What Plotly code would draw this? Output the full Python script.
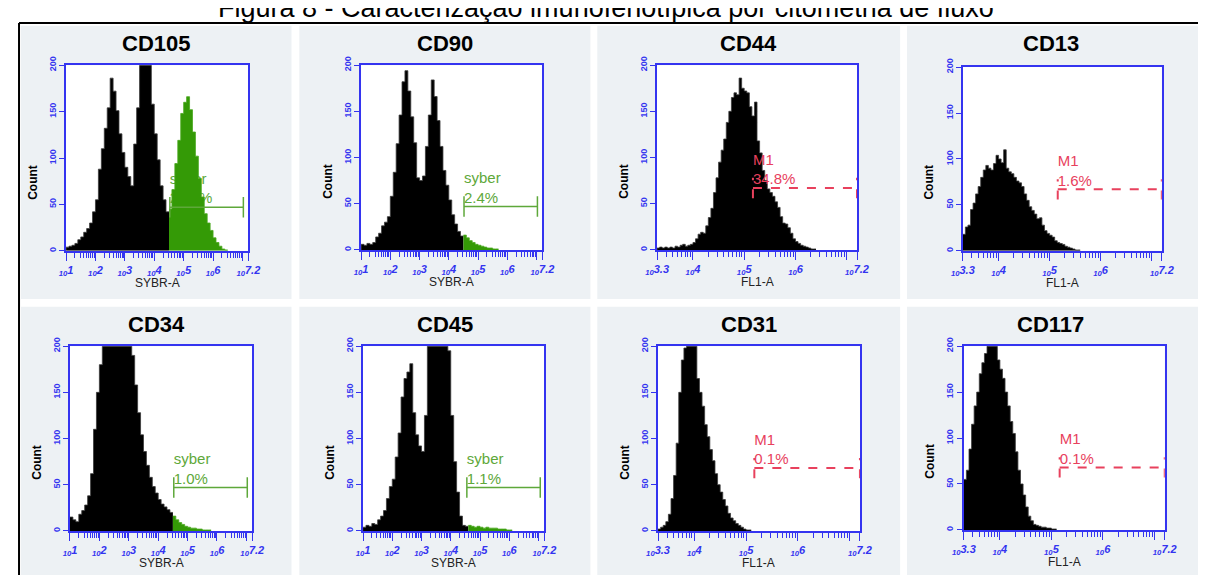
import plotly.graph_objects as go
import math

# ---------------- data ----------------
panel_titles = ["CD105", "CD90", "CD44", "CD13", "CD34", "CD45", "CD31", "CD117"]
channel_names = ["SYBR-A", "SYBR-A", "FL1-A", "FL1-A", "SYBR-A", "SYBR-A", "FL1-A", "FL1-A"]
decade_min = [1.0, 1.0, 3.3, 3.3, 1.0, 1.0, 3.3, 3.3]
decade_max = 7.2
bin_width = [0.1, 0.1, 0.05, 0.05, 0.1, 0.1, 0.05, 0.05]

# histogram counts per bin (bins start at decade_min, width bin_width, in log10 units)
counts_cd105 = [4, 5, 6, 8, 12, 15, 20, 24, 30, 42,
                55, 88, 110, 132, 154, 186, 172, 151, 126, 106,
                90, 80, 70, 115, 154, 212, 262, 252, 218, 158,
                126, 98, 70, 55, 42,
                45, 66, 94, 119, 148, 160, 166, 152, 128, 102,
                78, 58, 40, 30, 22, 14, 9, 5, 2, 1]
counts_cd90 = [6, 5, 7, 6, 8, 14, 18, 26, 30, 36,
               58, 84, 115, 146, 182, 194, 172, 144, 116, 78,
               75, 80, 112, 146, 184, 166, 140, 112, 86, 70,
               54, 38, 28, 20, 15,
               16, 13, 10, 8, 6, 5, 4, 3, 2, 2, 1, 1]
counts_cd34 = [15, 12, 10, 18, 22, 28, 38, 62, 110, 150,
               180, 215, 250, 280, 300, 310, 300, 285, 260, 235,
               215, 190, 158, 128, 104, 86, 71, 58, 48, 41,
               34, 29, 26, 23, 20,
               16, 12, 9, 7, 5, 4, 3, 3, 2, 2, 1, 1, 1]
counts_cd45 = [4, 6, 5, 8, 7, 12, 16, 22, 35, 48,
               56, 80, 106, 145, 165, 172, 181, 128, 104, 92,
               86, 125, 205, 245, 280, 300, 310, 290, 250, 195,
               125, 75, 42, 16, 6,
               5, 6, 5, 4, 5, 4, 3, 4, 3, 3, 3, 2, 2, 2, 1, 1]
counts_cd44 = [2, 3, 2, 3, 2, 3, 2, 4, 3, 5,
               6, 4, 5, 6, 8, 12, 17, 19, 18, 26,
               35, 45, 62, 78, 95, 108, 120, 138, 150, 165,
               170, 168, 186, 175, 172, 170, 155, 145, 160, 118,
               105, 86, 75, 66, 62, 58, 52, 46, 36, 29,
               28, 24, 18, 12, 9, 7, 5, 4, 3, 2, 1, 1]
counts_cd13 = [18, 26, 28, 45, 52, 62, 70, 80, 88, 93,
               90, 88, 95, 104, 100, 96, 110, 90, 86, 84,
               80, 76, 74, 70, 62, 55, 48, 44, 40, 35,
               36, 28, 22, 19, 17, 15, 11, 9, 8, 7,
               5, 4, 3, 2, 1, 1]
counts_cd31 = [2, 4, 6, 10, 18, 35, 60, 95, 150, 185,
               198, 220, 235, 225, 210, 165, 150, 135, 115, 102,
               88, 76, 62, 50, 42, 34, 27, 19, 14, 11,
               8, 6, 4, 2, 1, 1]
counts_cd117 = [55, 65, 88, 115, 135, 150, 170, 182, 192, 210,
                225, 230, 215, 185, 175, 165, 150, 135, 118, 105,
                85, 65, 50, 38, 25, 15, 10, 6, 5, 4,
                3, 3, 2, 2, 1, 1]
all_counts = [counts_cd105, counts_cd90, counts_cd44, counts_cd13,
              counts_cd34, counts_cd45, counts_cd31, counts_cd117]

gate_names = ["syber", "syber", "M1", "M1", "syber", "syber", "M1", "M1"]
gate_pct_labels = [None, "2.4%", "34.8%", "1.6%", "1.0%", "1.1%", "0.1%", "0.1%"]
gate_start = [4.53, 4.52, 5.17, 5.16, 4.53, 4.55, 5.16, 5.16]
gate_end = [7.03, 7.03, 7.2, 7.2, 7.03, 7.06, 7.2, 7.2]
gate_level = [47, 47, 67, 67, 47, 47, 68, 68]

y_tick_values = [0, 50, 100, 150, 200]
y_max = 200

figure_title = "Figura 8 - Caracterização imunofenotípica por citometria de fluxo"

# ---------------- layout geometry (pixels in the final picture) ----------------
W, H = 1206, 575
OFF = 8  # page body margin of the browser
plot_px = [(55, 241, 57, 246), (356, 541, 57, 245), (658, 862, 57, 245), (970, 1173, 59, 246),
           (59, 245, 343, 531), (358, 543, 343, 531), (659, 865, 343, 531), (971, 1176, 343, 530)]
panel_px = [(9, 285, 17, 295), (293, 590, 17, 295), (597, 906, 17, 295), (913, 1214, 17, 295),
            (9, 285, 303, 583), (293, 590, 303, 583), (597, 906, 303, 583), (913, 1214, 303, 583)]

BLUE = "#3434F0"
BG = "#EDF1F4"
GREEN_BAR = "#349A06"
GREEN_TXT = "#5EA83A"
RED = "#E8415D"
FONT = "Liberation Sans, Arial, sans-serif"


def fx(px):
    return (px - OFF) / W


def fy(py):
    return 1 - (py - OFF) / H


def step_xy(edges_left, vals, w):
    xs = list(edges_left) + [edges_left[-1] + w]
    ys = list(vals) + [vals[-1]]
    return xs, ys


fig = go.Figure()
shapes = []
annotations = []

for i in range(8):
    n = i + 1
    xa = "x" if n == 1 else f"x{n}"
    ya = "y" if n == 1 else f"y{n}"
    counts = all_counts[i]
    w = bin_width[i]
    lo = decade_min[i]
    lefts = [lo + k * w for k in range(len(counts))]
    sybr = gate_names[i] == "syber"
    bx, by, gx, gy = [], [], [], []
    for e, v in zip(lefts, counts):
        if sybr and e + w / 2 > gate_start[i]:
            gx.append(e); gy.append(v)
        else:
            bx.append(e); by.append(v)

    gcol = GREEN_TXT if sybr else RED
    pct = gate_pct_labels[i]
    if pct is None:
        pct = f"{100 * sum(gy) / sum(counts):.1f}%"
    label = dict(x=[gate_start[i]], y=[gate_level[i]], mode="text",
                 text=[f"{gate_names[i]}<br>{pct}"], textposition="top right",
                 textfont=dict(family=FONT, size=15, color=gcol),
                 xaxis=xa, yaxis=ya, hoverinfo="skip", cliponaxis=False)
    if sybr:
        fig.add_trace(go.Scatter(**label))

    sx, sy = step_xy(bx, by, w)
    fig.add_trace(go.Scatter(x=sx, y=sy, mode="lines", line=dict(shape="hv", color="#3a3a3a", width=0.8),
                             fill="tozeroy", fillcolor="black", xaxis=xa, yaxis=ya, hoverinfo="skip"))
    if gx:
        sx, sy = step_xy(gx, gy, w)
        fig.add_trace(go.Scatter(x=sx, y=sy, mode="lines", line=dict(shape="hv", color="#4aa820", width=0.8),
                                 fill="tozeroy", fillcolor=GREEN_BAR, xaxis=xa, yaxis=ya, hoverinfo="skip"))
    if not sybr:
        fig.add_trace(go.Scatter(**label))

    # ticks
    first = math.ceil(lo)
    major = [lo] if lo != first else []
    major += list(range(first, 8))
    if decade_max not in major:
        major.append(decade_max)
    ticktext = ["" if v == 7 else f"<sub>10</sub>{v:g}" for v in major]
    minor = []
    for d in range(int(math.floor(lo)), 8):
        for k in range(2, 10):
            m = d + math.log10(k)
            if lo < m < decade_max:
                minor.append(m)

    L, R, T, B = plot_px[i]
    fig.update_layout(**{
        ("xaxis" if n == 1 else f"xaxis{n}"): dict(
            domain=[fx(L), fx(R)], range=[lo, decade_max], anchor=ya,
            tickvals=major, ticktext=ticktext, ticks="outside", ticklen=8, tickwidth=1,
            tickcolor=BLUE, showline=True, linecolor=BLUE, linewidth=1.5, mirror=True,
            showgrid=False, zeroline=False, tickangle=0,
            tickfont=dict(family=FONT, size=11, color=BLUE, style="italic", weight="bold"),
            minor=dict(tickvals=minor, ticks="outside", ticklen=5, tickcolor=BLUE, tickwidth=1),
        ),
        ("yaxis" if n == 1 else f"yaxis{n}"): dict(
            domain=[fy(B), fy(T)], range=[0, y_max], anchor=xa,
            tickvals=y_tick_values, ticks="outside", ticklen=5, tickcolor=BLUE,
            showline=True, linecolor=BLUE, linewidth=1.5, mirror=True,
            showgrid=False, zeroline=False, tickangle=-90,
            tickfont=dict(family=FONT, size=9, color=BLUE, weight="bold"),
        ),
    })

    # panel background + white plot area
    pl, pr, pt, pb = panel_px[i]
    shapes.append(dict(type="rect", xref="paper", yref="paper", x0=fx(pl), x1=fx(pr),
                       y0=fy(pb), y1=fy(pt), fillcolor=BG, line=dict(width=0), layer="below"))
    shapes.append(dict(type="rect", xref=f"{xa} domain", yref=f"{ya} domain", x0=0, x1=1, y0=0, y1=1,
                       fillcolor="white", line=dict(width=0), layer="below"))

    # gate marker
    dash = "solid" if sybr else "dash"
    lw = 1.5 if sybr else 2
    g0, g1, gl = gate_start[i], gate_end[i], gate_level[i]
    cap = 11
    for seg in [(g0, gl, g1, gl), (g0, gl - cap, g0, gl + cap), (g1, gl - cap, g1, gl + cap)]:
        shapes.append(dict(type="line", xref=xa, yref=ya, x0=seg[0], y0=seg[1], x1=seg[2], y1=seg[3],
                           line=dict(color=gcol, width=lw, dash=dash), layer="above"))

    # titles
    annotations.append(dict(xref="paper", yref="paper", x=fx((pl + min(pr, 1206)) / 2), y=fy(pt + 18),
                            text=f"<b>{panel_titles[i]}</b>", showarrow=False,
                            font=dict(family=FONT, size=22, color="black"),
                            xanchor="center", yanchor="middle"))
    annotations.append(dict(xref="paper", yref="paper", x=fx(L - 34), y=fy(B - 70),
                            text="<b>Count</b>", showarrow=False, textangle=-90,
                            font=dict(family=FONT, size=12, color="black"),
                            xanchor="center", yanchor="middle"))
    annotations.append(dict(xref="paper", yref="paper", x=fx((L + R) / 2), y=fy(B + 33),
                            text=channel_names[i], showarrow=False,
                            font=dict(family=FONT, size=12, color="#222222"),
                            xanchor="center", yanchor="middle"))

# outer frame
shapes.append(dict(type="line", xref="paper", yref="paper", x0=fx(7), x1=1, y0=fy(14), y1=fy(14),
                   line=dict(color="black", width=2)))
shapes.append(dict(type="line", xref="paper", yref="paper", x0=fx(7), x1=fx(7), y0=fy(14), y1=0,
                   line=dict(color="black", width=2)))

annotations.append(dict(xref="paper", yref="paper", x=fx(606), y=fy(16), xanchor="center", yanchor="bottom",
                        text=figure_title, showarrow=False,
                        font=dict(family=FONT, size=27, color="black")))

fig.update_layout(width=W, height=H, margin=dict(l=0, r=0, t=0, b=0),
                  paper_bgcolor="white", plot_bgcolor="rgba(0,0,0,0)",
                  showlegend=False, shapes=shapes, annotations=annotations)

fig.write_html("out.html")
